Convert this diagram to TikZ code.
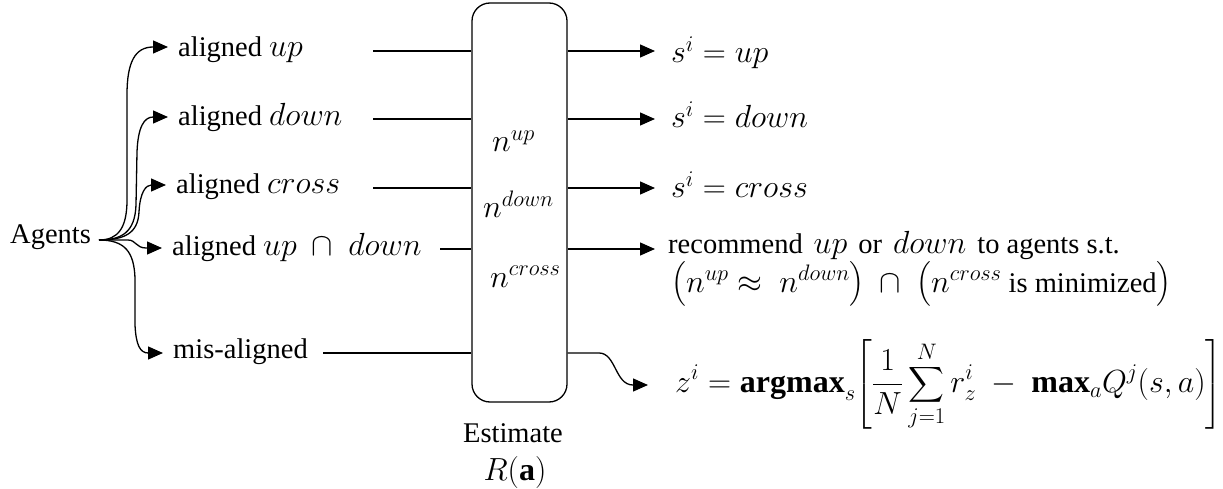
\RequirePackage{fix-cm}
\documentclass[tikz,border=0pt]{standalone}
\usepackage{amsmath}
\usepackage{fontspec}
\setmainfont{Liberation Serif}
\usetikzlibrary{arrows.meta,calc}
\newcommand\fsz{\fontsize{28.5}{34}\selectfont}
\newcommand\mfs{\fontsize{32}{38}\selectfont}
\newcommand\gap{\hspace{11pt}}
\tikzset{
  every node/.style={font=\fsz},
  lab/.style={anchor=base west, inner xsep=10pt, inner ysep=0pt},
  outp/.style={anchor=base west, inner xsep=16pt, inner ysep=0pt, font=\mfs},
  plain/.style={anchor=base west, inner sep=0pt},
  arr/.style={-{Triangle[length=15pt,width=13pt]}, line width=1.3pt},
  ln/.style={line width=1.3pt},
  estbox/.style={draw, line width=1.3pt, rounded corners=18pt, minimum width=95pt, minimum height=399pt, inner sep=0pt},
}
\begin{document}
\begin{tikzpicture}[x=1pt,y=-1pt]
\useasboundingbox (0,0) rectangle (1223,489);

% left side
\node[plain] (agents) at (10,243) {Agents};
\coordinate (br) at (99,240);

\node[lab] (lab1) at (168,57) {aligned {\mfs$up$}};
\node[lab] (lab2) at (168,126) {aligned {\mfs$down$}};
\node[lab] (lab3) at (166,194) {aligned {\mfs$cross$}};
\node[lab] (lab4) at (162,255) {aligned {\mfs$up\ \cap\ down$}};
\node[lab] (lab5) at (163,358) {mis-aligned};

\draw[arr] (br) .. controls (118,240) and (127,228) .. (127,200) -- (127,95)
   .. controls (127,62) and (135,47) .. (lab1.west |- 0,47);
\draw[arr] (br) .. controls (122,240) and (135,232) .. (136,205) -- (137,152)
   .. controls (138,127) and (144,117) .. (lab2.west |- 0,117);
\draw[arr] (br) .. controls (125,240) and (138,233) .. (139,212)
   .. controls (140,192) and (146,185) .. (lab3.west |- 0,185);
\draw[arr] (br) -- (128,240) .. controls (136,240) and (136,248) .. (146,248) -- (lab4.west |- 0,248);
\draw[arr] (br) .. controls (125,240) and (134,252) .. (135,278) -- (135,325)
   .. controls (136,345) and (140,353) .. (lab5.west |- 0,353);

% central box
\node[estbox] (box) at (519.5,202.5) {};
\node[plain, font=\mfs] (nup) at (492,152) {$n^{up}$};
\node[plain, font=\mfs] (ndown) at (483,218) {$n^{down}$};
\node[plain, font=\mfs] (ncross) at (490,287) {$n^{cross}$};
\node[anchor=base, inner sep=0pt] (est) at (513,442) {Estimate};
\node[anchor=base, inner sep=0pt, font=\mfs] (ra) at (515,480) {$R(\mathbf{a})$};

% connection lines
\coordinate (L1) at (373,51);
\coordinate (L2) at (373,119);
\coordinate (L3) at (373,188);
\coordinate (L4) at (440,249);
\coordinate (L5) at (323,353);
\foreach \k in {1,...,5} { \draw[ln] (L\k) -- (L\k -| box.west); }

% outputs
\node[outp] (o1) at (655,63) {$s^i = up$};
\node[outp] (o2) at (655,128) {$s^i = down$};
\node[outp] (o3) at (655,198) {$s^i = cross$};
\node[anchor=base west, inner xsep=13pt, inner ysep=0pt] (o4) at (655,253) {recommend\gap{\mfs$up$}\gap or\gap{\mfs$down$}\gap to agents s.t.};
\node[plain, font=\mfs] (o5) at (671,292) {$\bigl(n^{up} \approx\ n^{down}\bigr)\ \cap\ \bigl(n^{cross}\text{\fsz\ is minimized}\bigr)$};
\node[anchor=west, inner xsep=27pt, inner ysep=0pt, font=\mfs] (o6) at (648,385)
  {$\displaystyle z^i = \mathbf{argmax}_s\!\left[\frac{1}{N}\sum_{j=1}^{N} r_z^i\ -\ \mathbf{max}_a Q^j(s,a)\right]$};

\draw[arr] (L1 -| box.east) -- (L1 -| o1.west);
\draw[arr] (L2 -| box.east) -- (L2 -| o2.west);
\draw[arr] (L3 -| box.east) -- (L3 -| o3.west);
\draw[arr] (L4 -| box.east) -- (L4 -| o4.west);
\draw[arr] (L5 -| box.east) -- (599,353) .. controls (616,353) and (615,385) .. (633,385) -- (o6.west);
\end{tikzpicture}
\end{document}
